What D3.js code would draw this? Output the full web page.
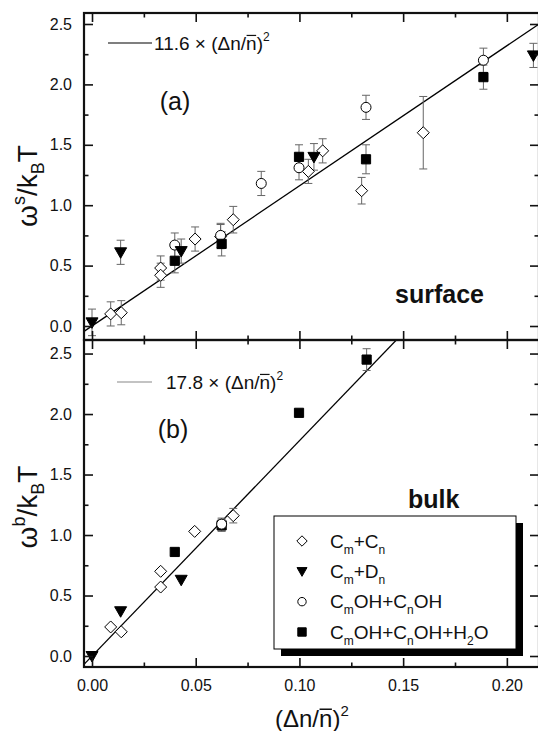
<!DOCTYPE html>
<html><head><meta charset="utf-8">
<script src="https://cdn.jsdelivr.net/npm/d3@7"></script>
<style>
body{margin:0;background:#fff;}
svg text{font-family:"Liberation Sans",Arial,Helvetica,sans-serif;fill:#111;}
</style></head><body>
<svg id="c" width="538" height="731"></svg>
<script>
// ---------- data ----------
const xTickValues = [0, 0.05, 0.10, 0.15, 0.20];
const xTickLabels = ["0.00", "0.05", "0.10", "0.15", "0.20"];
const xMinorTicks = [0.025, 0.075, 0.125, 0.175];
const yTickValues = [0, 0.5, 1.0, 1.5, 2.0, 2.5];
const yTickLabels = ["0.0", "0.5", "1.0", "1.5", "2.0", "2.5"];
const yMinorTicks = [0.25, 0.75, 1.25, 1.75, 2.25];

const seriesNames = ["C_m+C_n", "C_m+D_n", "C_mOH+C_nOH", "C_mOH+C_nOH+H_2O"];

// (a) surface
const sDiamondX = [0.009, 0.0141, 0.0331, 0.0331, 0.0497, 0.062, 0.0681, 0.1043, 0.1112, 0.130, 0.1597];
const sDiamondY = [0.10, 0.11, 0.48, 0.42, 0.72, 0.74, 0.88, 1.28, 1.45, 1.12, 1.60];
const sDiamondE = [0.10, 0.10, 0.10, 0.10, 0.10, 0.10, 0.11, 0.10, 0.10, 0.11, 0.30];
const sTriX = [0.0, 0.0138, 0.043, 0.107, 0.2128];
const sTriY = [0.03, 0.61, 0.62, 1.40, 2.24];
const sTriE = [0.11, 0.10, 0.10, 0.11, 0.10];
const sCircX = [0.0399, 0.062, 0.0816, 0.0998, 0.1321, 0.1887];
const sCircY = [0.67, 0.75, 1.18, 1.31, 1.81, 2.20];
const sCircE = [0.10, 0.10, 0.10, 0.10, 0.10, 0.10];
const sSqX = [0.0399, 0.0625, 0.0998, 0.1321, 0.1887];
const sSqY = [0.54, 0.68, 1.40, 1.38, 2.06];
const sSqE = [0.10, 0.10, 0.10, 0.12, 0.10];
const sSlope = 11.6;

// (b) bulk
const bDiamondX = [0.009, 0.0141, 0.0331, 0.0331, 0.0495, 0.0681];
const bDiamondY = [0.24, 0.20, 0.70, 0.57, 1.03, 1.16];
const bDiamondE = [0, 0, 0, 0, 0, 0.06];
const bTriX = [0.0, 0.0138, 0.043];
const bTriY = [0.0, 0.37, 0.63];
const bTriE = [0, 0, 0];
const bCircX = [0.0625];
const bCircY = [1.09];
const bCircE = [0.05];
const bSqX = [0.0399, 0.0625, 0.0998, 0.1324];
const bSqY = [0.86, 1.08, 2.01, 2.45];
const bSqE = [0, 0.05, 0, 0.09];
const bSlope = 17.8;

// ---------- layout ----------
const svg = d3.select("#c");
const L = 84, R = 539;
const x = d3.scaleLinear().domain([-0.00386, 0.2155]).range([L, R]);
const yA = d3.scaleLinear().domain([-0.1159, 2.591]).range([340, 13]);
const yB = d3.scaleLinear().domain([-0.0909, 2.612]).range([667, 340]);

const shapes = {
  diamond: s => `M0,${-s}L${s},0L0,${s}L${-s},0Z`,
  tri: s => `M${-s},${-s*0.75}L${s},${-s*0.75}L0,${s*1.0}Z`,
  circle: s => { const p = d3.path(); p.arc(0, 0, s, 0, 2*Math.PI); p.closePath(); return p.toString(); },
  square: s => `M${-s},${-s}h${2*s}v${2*s}h${-2*s}Z`
};
const shapeFill = {diamond: "#fff", tri: "#000", circle: "#fff", square: "#000"};
const plotSize = {diamond: 6, tri: 6, circle: 5, square: 4.6};
const legSize = {diamond: 5.2, tri: 5, circle: 4.2, square: 4.2};

function drawPanel(id, y, series, slope, lineColor) {
  const top = y.range()[1], bot = y.range()[0];
  svg.append("clipPath").attr("id", id).append("rect")
    .attr("x", L).attr("y", top).attr("width", R - L).attr("height", bot - top);
  const g = svg.append("g").attr("clip-path", `url(#${id})`);
  const xd = x.domain();
  g.append("path")
    .attr("d", d3.line().x(d => x(d)).y(d => y(slope * d))(xd))
    .attr("stroke", lineColor).attr("stroke-width", 1.3).attr("fill", "none");
  series.forEach(s => {
    const pts = s.xs.map((v, i) => ({x: v, y: s.ys[i], e: s.es[i]}));
    const eb = g.append("g").attr("stroke", "#666").attr("stroke-width", 1).attr("fill", "none");
    pts.filter(p => p.e > 0).forEach(p => {
      const cx = x(p.x);
      eb.append("line").attr("x1", cx).attr("x2", cx).attr("y1", y(p.y - p.e)).attr("y2", y(p.y + p.e));
      eb.append("line").attr("x1", cx - 4).attr("x2", cx + 4).attr("y1", y(p.y - p.e)).attr("y2", y(p.y - p.e));
      eb.append("line").attr("x1", cx - 4).attr("x2", cx + 4).attr("y1", y(p.y + p.e)).attr("y2", y(p.y + p.e));
    });
  });
  series.forEach(s => {
    const pts = s.xs.map((v, i) => ({x: v, y: s.ys[i]}));
    g.selectAll(null).data(pts).enter().append("path")
      .attr("transform", d => `translate(${x(d.x)},${y(d.y)})`)
      .attr("d", shapes[s.shape](plotSize[s.shape]))
      .attr("fill", shapeFill[s.shape]).attr("stroke", "#000").attr("stroke-width", 1);
  });
  const ax = svg.append("g");
  const tickStyle = sel => { sel.select(".domain").remove(); sel.selectAll(".tick line").attr("stroke", "#111").attr("stroke-width", 1.6); };
  ax.append("g").attr("transform", `translate(${L},0)`)
    .call(d3.axisLeft(y).tickValues(yTickValues).tickFormat((d, i) => yTickLabels[i]).tickSizeInner(-9).tickSizeOuter(0).tickPadding(12))
    .call(tickStyle)
    .call(a => a.selectAll("text").attr("font-size", 16).attr("font-family", "Liberation Sans, Arial, sans-serif").attr("fill", "#111"));
  ax.append("g").attr("transform", `translate(${L},0)`)
    .call(d3.axisLeft(y).tickValues(yMinorTicks).tickFormat("").tickSizeInner(-4.5).tickSizeOuter(0)).call(tickStyle);
  ax.append("g").attr("transform", `translate(${R},0)`)
    .call(d3.axisRight(y).tickValues(yTickValues).tickFormat("").tickSizeInner(-9).tickSizeOuter(0)).call(tickStyle);
  ax.append("g").attr("transform", `translate(${R},0)`)
    .call(d3.axisRight(y).tickValues(yMinorTicks).tickFormat("").tickSizeInner(-4.5).tickSizeOuter(0)).call(tickStyle);
  ax.append("g").attr("transform", `translate(0,${top})`)
    .call(d3.axisTop(x).tickValues(xTickValues).tickFormat("").tickSizeInner(-9).tickSizeOuter(0)).call(tickStyle);
  ax.append("g").attr("transform", `translate(0,${top})`)
    .call(d3.axisTop(x).tickValues(xMinorTicks).tickFormat("").tickSizeInner(-4.5).tickSizeOuter(0)).call(tickStyle);
  ax.append("g").attr("transform", `translate(0,${bot})`)
    .call(d3.axisBottom(x).tickValues(xTickValues).tickFormat("").tickSizeInner(-9).tickSizeOuter(0)).call(tickStyle);
  ax.append("g").attr("transform", `translate(0,${bot})`)
    .call(d3.axisBottom(x).tickValues(xMinorTicks).tickFormat("").tickSizeInner(-4.5).tickSizeOuter(0)).call(tickStyle);
  ax.append("rect").attr("x", L).attr("y", top).attr("width", R - L).attr("height", bot - top)
    .attr("fill", "none").attr("stroke", "#111").attr("stroke-width", 2.2);
  return ax;
}

const seriesA = [
  {shape: "diamond", xs: sDiamondX, ys: sDiamondY, es: sDiamondE},
  {shape: "circle", xs: sCircX, ys: sCircY, es: sCircE},
  {shape: "square", xs: sSqX, ys: sSqY, es: sSqE},
  {shape: "tri", xs: sTriX, ys: sTriY, es: sTriE}
];
const seriesB = [
  {shape: "diamond", xs: bDiamondX, ys: bDiamondY, es: bDiamondE},
  {shape: "square", xs: bSqX, ys: bSqY, es: bSqE},
  {shape: "circle", xs: bCircX, ys: bCircY, es: bCircE},
  {shape: "tri", xs: bTriX, ys: bTriY, es: bTriE}
];
drawPanel("clipA", yA, seriesA, sSlope, "#000");
drawPanel("clipB", yB, seriesB, bSlope, "#000");

svg.append("g").attr("transform", "translate(0,667)")
  .call(d3.axisBottom(x).tickValues(xTickValues).tickFormat((d, i) => xTickLabels[i]).tickSize(0).tickPadding(13))
  .call(a => { a.select(".domain").remove(); a.selectAll("text").attr("font-size", 16).attr("font-family", "Liberation Sans, Arial, sans-serif").attr("fill", "#111"); });

// overline helper: draws a bar over character idx of a text element
function overline(t, idx, fs, col) {
  const n = t.node();
  const a = n.getStartPositionOfChar(idx), b = n.getEndPositionOfChar(idx);
  const yy = a.y - fs * 0.74;
  svg.append("line").attr("x1", a.x + 0.5).attr("x2", b.x - 0.5).attr("y1", yy).attr("y2", yy)
    .attr("stroke", col || "#111").attr("stroke-width", Math.max(1, fs / 16));
}

function fitLabel(x0, x1, tx, yy, slope, col) {
  svg.append("line").attr("x1", x0).attr("x2", x1).attr("y1", yy).attr("y2", yy)
    .attr("stroke", col).attr("stroke-width", 1.2);
  const t = svg.append("text").attr("x", tx).attr("y", yy + 6.5).attr("font-size", 19);
  const s1 = slope.toFixed(1) + " \u00D7 (\u0394n/";
  t.append("tspan").text(s1 + "n)");
  t.append("tspan").attr("font-size", 12).attr("dy", -9).text("2");
  overline(t, s1.length, 19);
}
fitLabel(108, 152, 154, 43, sSlope, "#000");
fitLabel(117, 152, 166, 382, bSlope, "#888");

svg.append("text").attr("x", 175).attr("y", 110).attr("text-anchor", "middle").attr("font-size", 25).text("(a)");
svg.append("text").attr("x", 173).attr("y", 438).attr("text-anchor", "middle").attr("font-size", 25).text("(b)");
svg.append("text").attr("x", 395).attr("y", 303).attr("font-size", 25).attr("font-weight", "bold").text("surface");
svg.append("text").attr("x", 408).attr("y", 508).attr("font-size", 25).attr("font-weight", "bold").text("bulk");

function yTitle(cy, sup) {
  const t = svg.append("text").attr("transform", `translate(37,${cy}) rotate(-90)`)
    .attr("text-anchor", "middle").attr("font-size", 28);
  t.append("tspan").text("\u03C9");
  t.append("tspan").attr("font-size", 18).attr("dy", -12).text(sup);
  t.append("tspan").attr("dy", 12).text("/k");
  t.append("tspan").attr("font-size", 18).attr("dy", 7).text("B");
  t.append("tspan").attr("dy", -7).text("T");
}
yTitle(186, "s");
yTitle(507, "b");

{
  const t = svg.append("text").attr("x", 275).attr("y", 727).attr("font-size", 24);
  const s1 = "(\u0394n/";
  t.append("tspan").text(s1 + "n)");
  t.append("tspan").attr("font-size", 15).attr("dy", -11).text("2");
  overline(t, s1.length, 24);
}

// legend
svg.append("rect").attr("x", 281).attr("y", 523).attr("width", 242).attr("height", 133).attr("fill", "#000");
svg.append("rect").attr("x", 274).attr("y", 516).attr("width", 242).attr("height", 133)
  .attr("fill", "#fff").attr("stroke", "#000").attr("stroke-width", 1);
const legShapes = ["diamond", "tri", "circle", "square"];
const legY = d3.scalePoint().domain(seriesNames).range([541, 632]);
seriesNames.forEach((name, i) => {
  const yy = legY(name);
  const sh = legShapes[i];
  svg.append("path").attr("transform", `translate(302,${yy})`).attr("d", shapes[sh](legSize[sh]))
    .attr("fill", shapeFill[sh]).attr("stroke", "#000").attr("stroke-width", 1);
  const t = svg.append("text").attr("x", 330).attr("y", yy + 6.5).attr("font-size", 19);
  const parts = name.split(/(_\w)/).filter(p => p.length);
  let pending = 0;
  parts.forEach(p => {
    if (p[0] === "_") {
      t.append("tspan").attr("font-size", 12).attr("dy", 6 + pending).text(p[1]);
      pending = -6;
    } else {
      t.append("tspan").attr("dy", pending).text(p);
      pending = 0;
    }
  });
});
</script>
</body></html>
